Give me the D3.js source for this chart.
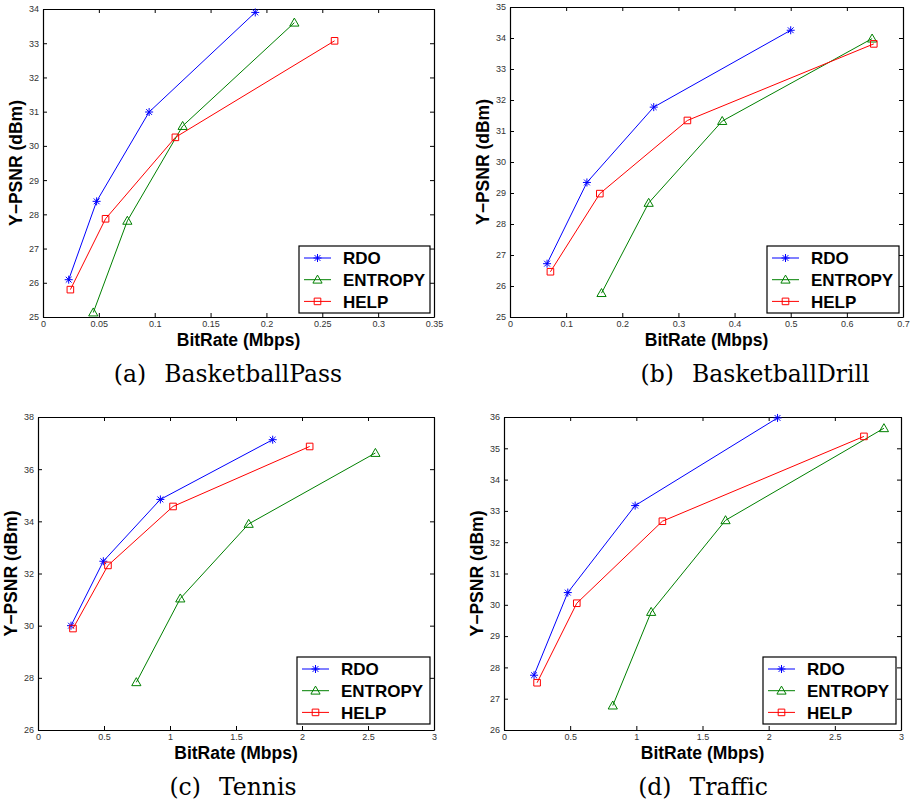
<!DOCTYPE html>
<html>
<title>Y-PSNR vs BitRate</title>
<style>
  body {
    margin: 0px;
    background: #fff;
  }
  svg {
    display: block;
  }
  text {
    font-family: "Liberation Sans", Arial, sans-serif;
  }
  .tick text {
    font-size: 9px;
    fill: #333;
  }
  .axis-title {
    font-size: 17.5px;
    font-weight: bold;
  }
  .caption {
    font-family: "DejaVu Serif", serif;
    font-size: 23.5px;
  }
  .legend text {
    font-size: 17px;
    font-weight: bold;
  }
  .curve {
    fill: none;
    stroke-width: 1;
  }
</style>
<script src="https://cdn.jsdelivr.net/npm/d3@7"></script>
<body>
<svg width="912" height="803"></svg>
<script>

const seriesNames = ["RDO", "ENTROPY", "HELP"];
const seriesColors = ["#0000ff", "#008000", "#ff0000"];
const seriesMarkers = ["star", "triangle", "square"];

// (a) BasketballPass  [bitrate Mbps, Y-PSNR]
const passRDO = [[0.023, 26.09], [0.048, 28.38], [0.095, 30.99], [0.190, 33.90]];
const passENTROPY = [[0.045, 25.13], [0.0755, 27.81], [0.125, 30.58], [0.225, 33.60]];
const passHELP = [[0.0245, 25.80], [0.056, 27.87], [0.1185, 30.25], [0.261, 33.07]];
const passXTicks = [0, 0.05, 0.1, 0.15, 0.2, 0.25, 0.3, 0.35];
const passYTicks = [25, 26, 27, 28, 29, 30, 31, 32, 33, 34];

// (b) BasketballDrill
const drillRDO = [[0.066, 26.72], [0.137, 29.34], [0.256, 31.77], [0.500, 34.25]];
const drillENTROPY = [[0.163, 25.77], [0.247, 28.68], [0.378, 31.32], [0.645, 33.98]];
const drillHELP = [[0.072, 26.46], [0.160, 28.98], [0.316, 31.34], [0.648, 33.81]];
const drillXTicks = [0, 0.1, 0.2, 0.3, 0.4, 0.5, 0.6, 0.7];
const drillYTicks = [25, 26, 27, 28, 29, 30, 31, 32, 33, 34, 35];

// (c) Tennis
const tennisRDO = [[0.25, 30.00], [0.495, 32.47], [0.927, 34.84], [1.778, 37.13]];
const tennisENTROPY = [[0.745, 27.83], [1.078, 31.04], [1.596, 33.90], [2.556, 36.62]];
const tennisHELP = [[0.265, 29.89], [0.53, 32.31], [1.023, 34.57], [2.058, 36.87]];
const tennisXTicks = [0, 0.5, 1, 1.5, 2, 2.5, 3];
const tennisYTicks = [26, 28, 30, 32, 34, 36, 38];

// (d) Traffic
const trafficRDO = [[0.227, 27.75], [0.482, 30.39], [0.991, 33.17], [2.067, 35.97]];
const trafficENTROPY = [[0.822, 26.78], [1.112, 29.77], [1.674, 32.70], [2.871, 35.64]];
const trafficHELP = [[0.25, 27.51], [0.55, 30.05], [1.197, 32.67], [2.72, 35.38]];
const trafficXTicks = [0, 0.5, 1, 1.5, 2, 2.5, 3];
const trafficYTicks = [26, 27, 28, 29, 30, 31, 32, 33, 34, 35, 36];

const captionLabels = ["(a)", "(b)", "(c)", "(d)"];
const captionNames = ["BasketballPass", "BasketballDrill", "Tennis", "Traffic"];

const panels = [
  {data: [passRDO, passENTROPY, passHELP], xTicks: passXTicks, yTicks: passYTicks,
   left: 43, right: 434, top: 9, bottom: 317, lx: 299, ly: 246, lw: 131, cx: 228, cy: 382},
  {data: [drillRDO, drillENTROPY, drillHELP], xTicks: drillXTicks, yTicks: drillYTicks,
   left: 510, right: 903, top: 7, bottom: 317, lx: 767, ly: 246, lw: 132, cx: 755, cy: 382},
  {data: [tennisRDO, tennisENTROPY, tennisHELP], xTicks: tennisXTicks, yTicks: tennisYTicks,
   left: 38, right: 434, top: 417, bottom: 730, lx: 297, ly: 657, lw: 133, cx: 233, cy: 795},
  {data: [trafficRDO, trafficENTROPY, trafficHELP], xTicks: trafficXTicks, yTicks: trafficYTicks,
   left: 504, right: 901, top: 417, bottom: 730, lx: 763, ly: 657, lw: 133, cx: 703, cy: 795}
];

const svg = d3.select("svg");

function markerPath(type) {
  if (type === "star") {
    const r = 4, d = 2.9;
    return `M0,${-r}L0,${r}M${-r},0L${r},0M${-d},${-d}L${d},${d}M${-d},${d}L${d},${-d}`;
  }
  if (type === "triangle") return "M0,-4.6L4.6,3.4L-4.6,3.4Z";
  return "M-3.3,-3.3L3.3,-3.3L3.3,3.3L-3.3,3.3Z";
}

panels.forEach(function(p, pi) {
  const g = svg.append("g");

  const x = d3.scaleLinear()
      .domain(d3.extent(p.xTicks))
      .range([p.left, p.right]);
  const y = d3.scaleLinear()
      .domain(d3.extent(p.yTicks))
      .range([p.bottom, p.top]);

  // axes with inward ticks on all four sides
  g.append("g")
      .attr("transform", `translate(0,${p.bottom})`)
      .call(d3.axisBottom(x).tickValues(p.xTicks).tickFormat(d => String(d))
        .tickSizeInner(-4).tickSizeOuter(0).tickPadding(4));
  g.append("g")
      .attr("transform", `translate(0,${p.top})`)
      .call(d3.axisTop(x).tickValues(p.xTicks).tickFormat("")
        .tickSizeInner(-4).tickSizeOuter(0));
  g.append("g")
      .attr("transform", `translate(${p.left},0)`)
      .call(d3.axisLeft(y).tickValues(p.yTicks).tickFormat(d => String(d))
        .tickSizeInner(-4).tickSizeOuter(0).tickPadding(4));
  g.append("g")
      .attr("transform", `translate(${p.right},0)`)
      .call(d3.axisRight(y).tickValues(p.yTicks).tickFormat("")
        .tickSizeInner(-4).tickSizeOuter(0));

  g.selectAll(".domain").attr("stroke", "#000").attr("stroke-width", 1.2);
  g.selectAll(".tick line").attr("stroke", "#000");
  g.selectAll(".tick text").attr("font-family", null);

  // axis titles
  g.append("text")
      .attr("class", "axis-title")
      .attr("x", (p.left + p.right) / 2)
      .attr("y", p.bottom + 29)
      .attr("text-anchor", "middle")
      .text("BitRate (Mbps)");
  g.append("text")
      .attr("class", "axis-title")
      .attr("transform", `translate(${p.left - 21},${(p.top + p.bottom) / 2}) rotate(-90)`)
      .attr("text-anchor", "middle")
      .text("Y\u2212PSNR (dBm)");

  // curves
  const line = d3.line()
      .x(d => x(d[0]))
      .y(d => y(d[1]));

  p.data.forEach(function(series, si) {
    g.append("path")
        .datum(series)
        .attr("class", "curve")
        .attr("stroke", seriesColors[si])
        .attr("d", line);
    g.selectAll(null)
        .data(series)
      .enter().append("path")
        .attr("transform", d => `translate(${x(d[0])},${y(d[1])})`)
        .attr("d", markerPath(seriesMarkers[si]))
        .attr("fill", "none")
        .attr("stroke", seriesColors[si])
        .attr("stroke-width", 1);
  });

  // legend
  const lg = g.append("g")
      .attr("class", "legend")
      .attr("transform", `translate(${p.lx},${p.ly})`);
  lg.append("rect")
      .attr("width", p.lw)
      .attr("height", 67)
      .attr("fill", "#fff")
      .attr("stroke", "#000")
      .attr("stroke-width", 1.2);
  seriesNames.forEach(function(name, si) {
    const ry = 12 + si * 21.7;
    lg.append("line")
        .attr("x1", 5).attr("x2", 32)
        .attr("y1", ry).attr("y2", ry)
        .attr("stroke", seriesColors[si]);
    lg.append("path")
        .attr("transform", `translate(18.5,${ry})`)
        .attr("d", markerPath(seriesMarkers[si]))
        .attr("fill", "none")
        .attr("stroke", seriesColors[si]);
    lg.append("text")
        .attr("x", 44)
        .attr("y", ry + 6.2)
        .text(name);
  });

  // caption
  const cap = svg.append("text")
      .attr("class", "caption")
      .attr("x", p.cx)
      .attr("y", p.cy)
      .attr("text-anchor", "middle");
  cap.append("tspan").text(captionLabels[pi]);
  cap.append("tspan").attr("dx", 18).text(captionNames[pi]);
});
</script>
</body>
</html>
